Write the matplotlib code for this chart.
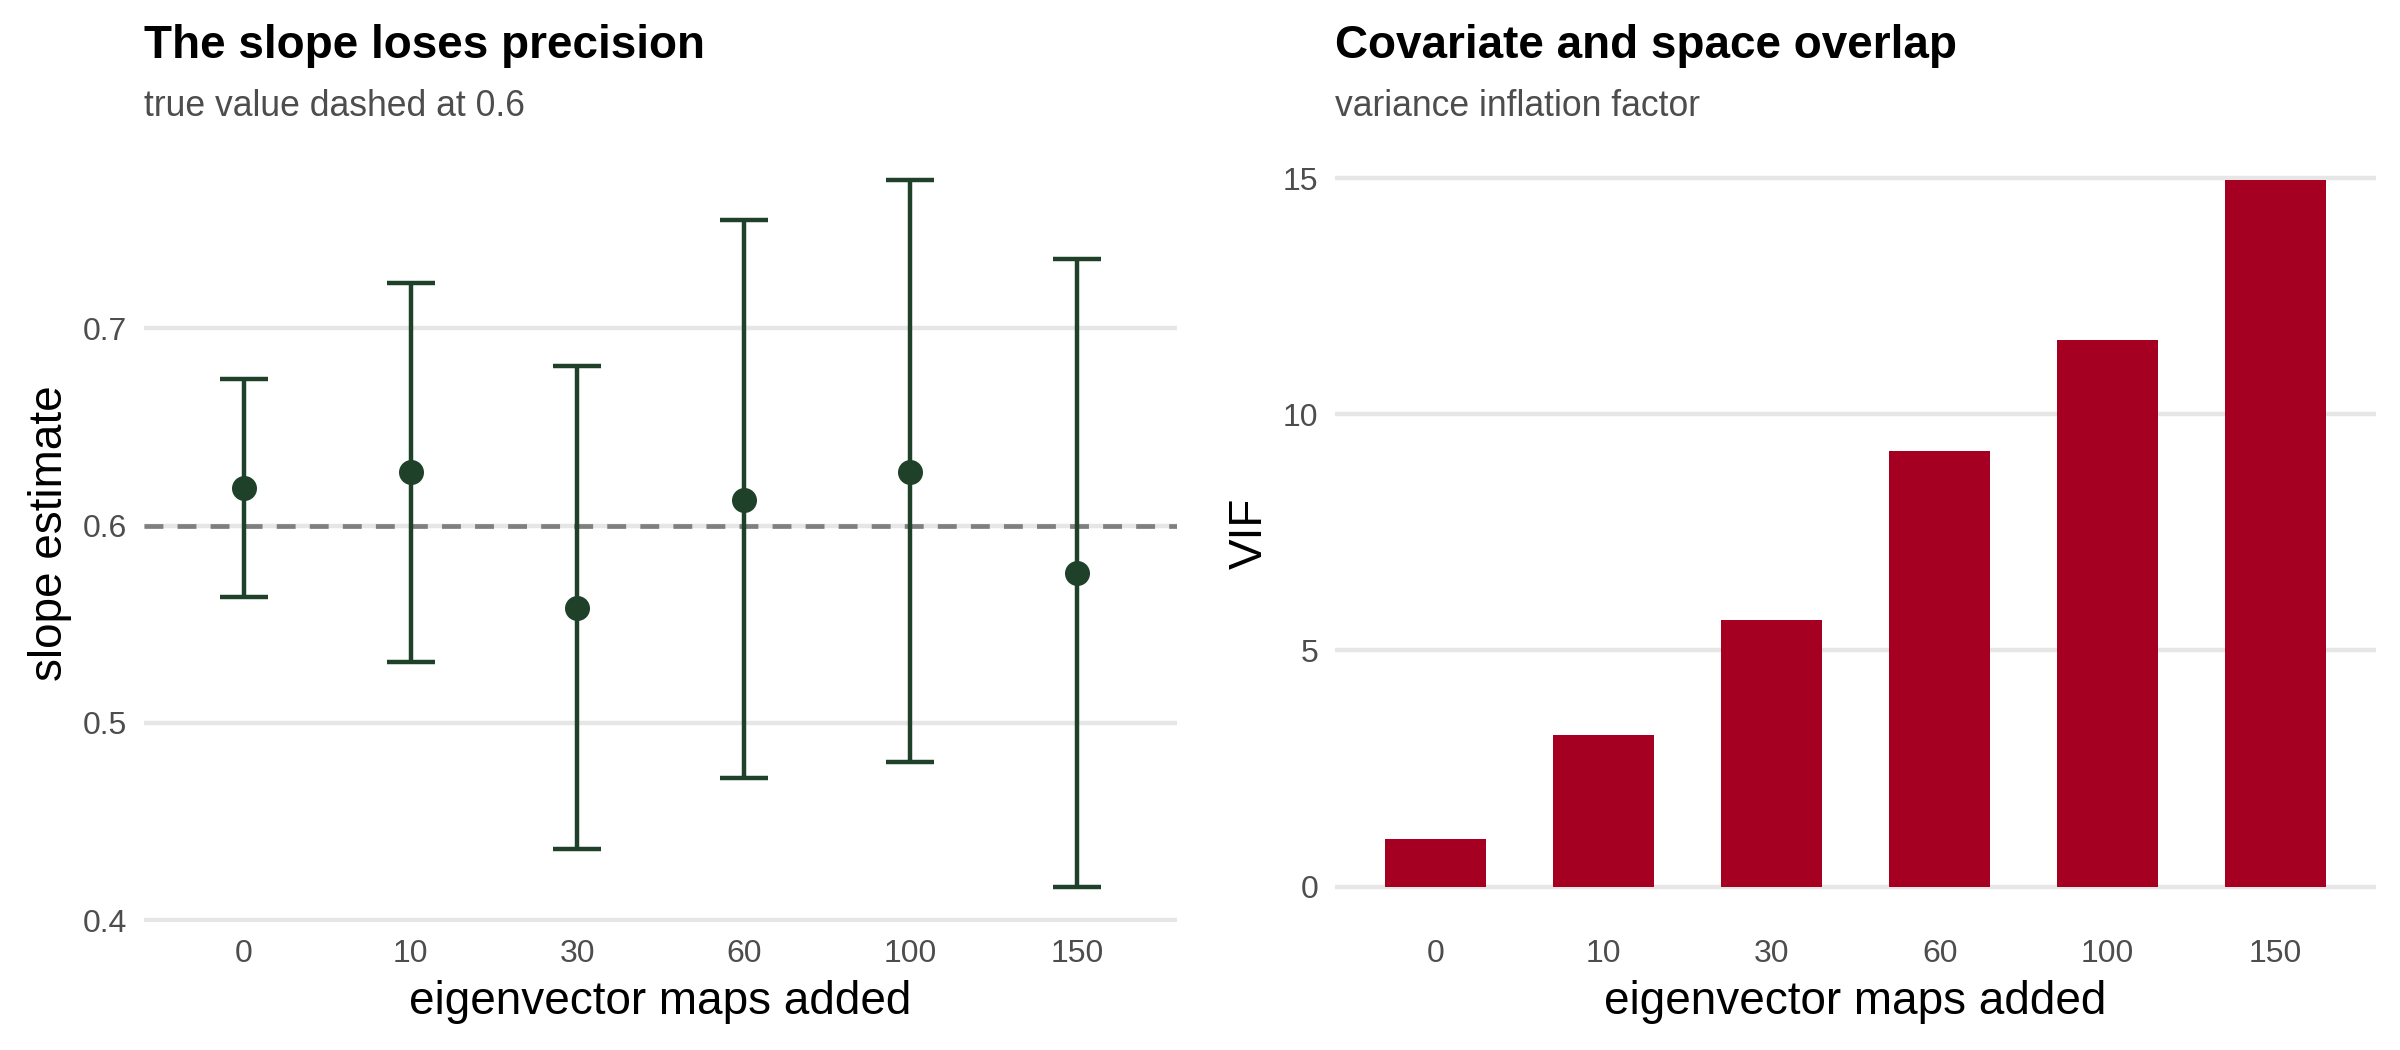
import numpy as np
import matplotlib
matplotlib.use("Agg")
import matplotlib.pyplot as plt

# -------------------------------------------------------
# Data
# -------------------------------------------------------

maps_added = ["0", "10", "30", "60", "100", "150"]

slope_est = [0.619, 0.627, 0.558, 0.613, 0.627, 0.576]
slope_lo = [0.564, 0.531, 0.436, 0.472, 0.480, 0.417]
slope_hi = [0.674, 0.723, 0.681, 0.755, 0.775, 0.735]

true_slope = 0.6

vif = [1.01, 3.20, 5.65, 9.23, 11.57, 14.96]

# -------------------------------------------------------
# Style
# -------------------------------------------------------

plt.rcParams["font.family"] = ["Liberation Sans", "DejaVu Sans"]

green = "#1f4029"
red = "#a50021"
grid_col = "#e6e6e6"
tick_col = "#4d4d4d"

fig = plt.figure(figsize=(12, 5.25), dpi=200)

ax1 = fig.add_axes([0.06, 0.122, 0.4304, 0.740])
ax2 = fig.add_axes([0.5563, 0.122, 0.4338, 0.740])

x = np.arange(len(maps_added))


def style(ax):
    for s in ax.spines.values():
        s.set_visible(False)
    ax.grid(axis="y", color=grid_col, linewidth=1.6)
    ax.grid(axis="x", visible=False)
    ax.set_axisbelow(True)
    ax.tick_params(length=0, labelsize=11.5, labelcolor=tick_col, pad=6)
    ax.set_xticks(x)
    ax.set_xticklabels(maps_added)
    ax.set_xlim(-0.6, len(maps_added) - 0.4)
    ax.set_xlabel("eigenvector maps added", fontsize=16.5, labelpad=4)


# -------------------------------------------------------
# Left: slope estimates
# -------------------------------------------------------

est = np.array(slope_est)
yerr = [est - np.array(slope_lo), np.array(slope_hi) - est]

ax1.axhline(true_slope, color="#7f7f7f", linewidth=1.7, linestyle=(0, (4, 3)), zorder=2)
ax1.errorbar(x, est, yerr=yerr, fmt="o", color=green, ecolor=green,
             elinewidth=1.6, capsize=8.5, capthick=1.6, markersize=8, zorder=3)

style(ax1)
lo = min(slope_lo)
hi = max(slope_hi)
pad = (hi - lo) * 0.05
ax1.set_ylim(lo - pad, hi + pad)
ax1.set_yticks([0.4, 0.5, 0.6, 0.7])
ax1.set_ylabel("slope estimate", fontsize=16.5, labelpad=4)

ax1.text(0, 1.112, "The slope loses precision", transform=ax1.transAxes,
         fontsize=16.5, fontweight="bold", ha="left", va="baseline")
ax1.text(0, 1.037, "true value dashed at 0.6", transform=ax1.transAxes,
         fontsize=12.8, color=tick_col, ha="left", va="baseline")

# -------------------------------------------------------
# Right: VIF bars
# -------------------------------------------------------

ax2.bar(x, vif, width=0.6, color=red, zorder=3)

style(ax2)
top = max(vif)
ax2.set_ylim(-top * 0.05, top * 1.05)
ax2.set_yticks([0, 5, 10, 15])
ax2.set_ylabel("VIF", fontsize=16.5, labelpad=4)

ax2.text(0, 1.112, "Covariate and space overlap", transform=ax2.transAxes,
         fontsize=16.5, fontweight="bold", ha="left", va="baseline")
ax2.text(0, 1.037, "variance inflation factor", transform=ax2.transAxes,
         fontsize=12.8, color=tick_col, ha="left", va="baseline")

fig.savefig("out.png", dpi=200)
